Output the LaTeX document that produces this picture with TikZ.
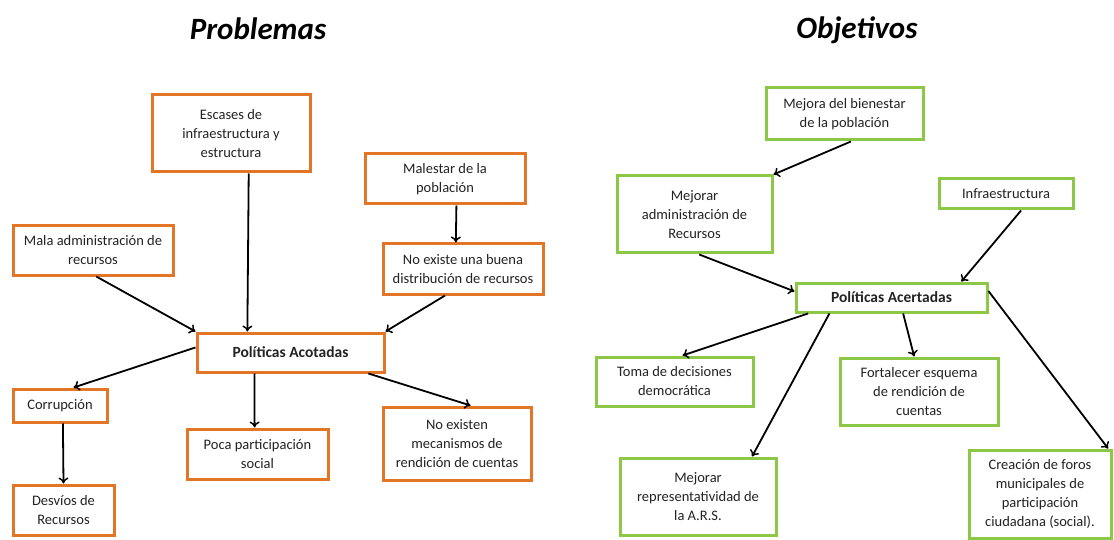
\documentclass[tikz,border=0pt]{standalone}
\usepackage{fontspec}
\setmainfont{Carlito}
\usetikzlibrary{arrows.meta,calc}
\definecolor{orangeb}{RGB}{226,118,38}
\definecolor{greenb}{RGB}{140,200,70}
\definecolor{txt}{RGB}{35,35,35}
\tikzset{
  box/.style={draw, line width=3pt, fill=white, align=center, inner sep=1pt,
    text=txt, font=\fontsize{14.5}{19}\selectfont},
  obox/.style={box, draw=orangeb},
  gbox/.style={box, draw=greenb},
  arr/.style={line width=1.8pt, -{To[length=6pt,width=10pt,line width=1.5pt]}},
  ttl/.style={font=\fontsize{31}{34}\selectfont\bfseries\itshape, text=black},
  bld/.style={font=\fontsize{15.5}{19}\selectfont\bfseries},
}
\newcommand{\bx}[6]{\node[#1, minimum width=#4pt-#2pt, minimum height=#5pt-#3pt] (#6) at ({(#2+#4)/2},{(#3+#5)/2})}
\begin{document}
\begin{tikzpicture}[x=1pt,y=-1pt]
\useasboundingbox (0,0) rectangle (1114,540);
% titles
\node[ttl] (t1) at (258,29) {Problemas};
\node[ttl] (t2) at (857,30) {Objetivos};
% left
\bx{obox}{152}{95}{310}{172}{esc} {Escases de\\infraestructura y\\estructura};
\bx{obox}{365}{154}{525}{204}{mal} {Malestar de la\\población};
\bx{obox}{383}{244}{543}{294}{dist} {No existe una buena\\distribución de recursos};
\bx{obox}{13}{226}{173}{275}{mala} {Mala administración de\\recursos};
\bx{obox,bld}{197}{333}{384}{372}{pol} {Políticas Acotadas};
\bx{obox}{13}{389}{107}{422}{cor} {Corrupción};
\bx{obox}{13}{485}{114}{535}{des} {Desvíos de\\Recursos};
\bx{obox}{187}{429}{328}{479}{poca} {Poca participación\\social};
\bx{obox}{383}{407}{531}{480}{rend} {No existen\\mecanismos de\\rendición de cuentas};
% right
\bx{gbox}{766}{88}{923}{140}{bien} {Mejora del bienestar\\de la población};
\bx{gbox}{617}{176}{772}{253}{adm} {Mejorar\\administración de\\Recursos};
\bx{gbox}{939}{179}{1073}{209}{inf} {Infraestructura};
\bx{gbox,bld}{796}{283}{987}{312}{pa} {Políticas Acertadas};
\bx{gbox}{596}{357}{753}{406}{toma} {Toma de decisiones\\democrática};
\bx{gbox}{840}{358}{998}{425}{fort} {Fortalecer esquema\\de rendición de\\cuentas};
\bx{gbox}{620}{458}{776}{535}{rep} {Mejorar\\representatividad de\\la A.R.S.};
\bx{gbox}{969}{450}{1111}{538}{cre} {Creación de foros\\municipales de\\participación\\ciudadana (social).};
% left arrows
\draw[arr] ($(mala.south west)!0.52!(mala.south east)$) -- (pol.north west);
\draw[arr] ($(esc.south west)!0.61!(esc.south east)$) -- ($(pol.north west)!0.273!(pol.north east)$);
\draw[arr] ($(dist.south west)!0.39!(dist.south east)$) -- (pol.north east);
\draw[arr] ($(mal.south west)!0.57!(mal.south east)$) -- ($(dist.north west)!0.456!(dist.north east)$);
\draw[arr] ($(pol.north west)!0.38!(pol.south west)$) -- ($(cor.north west)!0.64!(cor.north east)$);
\draw[arr] ($(pol.south west)!0.31!(pol.south east)$) -- ($(poca.north west)!0.48!(poca.north east)$);
\draw[arr] ($(pol.south west)!0.91!(pol.south east)$) -- ($(rend.north west)!0.59!(rend.north east)$);
\draw[arr] ($(cor.south west)!0.53!(cor.south east)$) -- ($(des.north west)!0.5!(des.north east)$);
% right arrows
\draw[arr] ($(bien.south west)!0.54!(bien.south east)$) -- (adm.north east);
\draw[arr] ($(adm.south west)!0.53!(adm.south east)$) -- ($(pa.north west)!0.31!(pa.south west)$);
\draw[arr] ($(inf.south west)!0.61!(inf.south east)$) -- ($(pa.north west)!0.86!(pa.north east)$);
\draw[arr] ($(pa.south west)!0.07!(pa.south east)$) -- ($(toma.north west)!0.55!(toma.north east)$);
\draw[arr] ($(pa.south west)!0.18!(pa.south east)$) -- ($(rep.north west)!0.84!(rep.north east)$);
\draw[arr] ($(pa.south west)!0.56!(pa.south east)$) -- ($(fort.north west)!0.47!(fort.north east)$);
\draw[arr] ($(pa.north east)!0.3!(pa.south east)$) -- ($(cre.north west)!0.97!(cre.north east)$);
\end{tikzpicture}
\end{document}
